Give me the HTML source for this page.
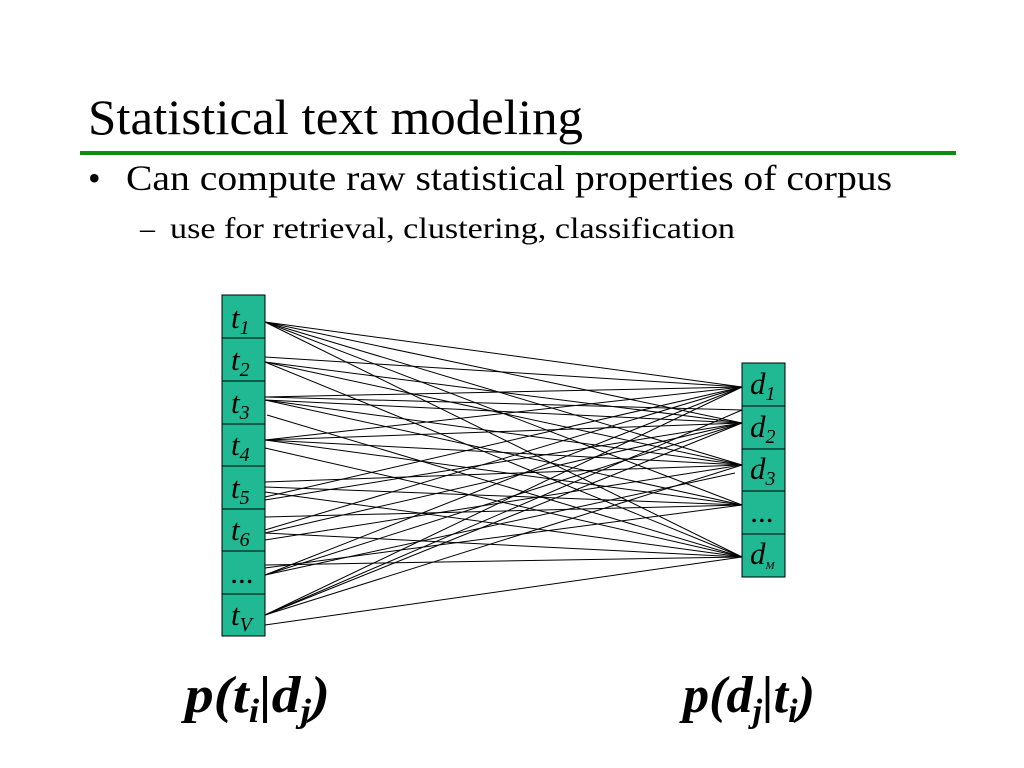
<!DOCTYPE html>
<html><head><meta charset="utf-8"><style>
html,body{margin:0;padding:0;background:#fff;}
svg{display:block;}
text{font-family:"Liberation Serif",serif;}
</style></head><body>
<svg width="1024" height="768" viewBox="0 0 1024 768" xmlns="http://www.w3.org/2000/svg">
<text x="88" y="134" font-size="50" textLength="495" lengthAdjust="spacingAndGlyphs">Statistical text modeling</text>
<rect x="80" y="151" width="876" height="4" fill="#108a10"/>
<text x="88" y="190" font-size="36">•</text>
<text x="126" y="190" font-size="36" textLength="766" lengthAdjust="spacingAndGlyphs">Can compute raw statistical properties of corpus</text>
<text x="140" y="238" font-size="30">–</text>
<text x="170" y="238" font-size="30" textLength="565" lengthAdjust="spacingAndGlyphs">use for retrieval, clustering, classification</text>
<g stroke="#000" stroke-width="1" fill="#21b994">
<rect x="222" y="295" width="43" height="43"/><rect x="222" y="338" width="43" height="43"/>
<rect x="222" y="381" width="43" height="43"/><rect x="222" y="424" width="43" height="42"/>
<rect x="222" y="466" width="43" height="43"/><rect x="222" y="509" width="43" height="42"/>
<rect x="222" y="551" width="43" height="43"/><rect x="222" y="594" width="43" height="42"/>
<rect x="742" y="363" width="43" height="43"/><rect x="742" y="406" width="43" height="43"/>
<rect x="742" y="449" width="43" height="42"/><rect x="742" y="491" width="43" height="43"/>
<rect x="742" y="534" width="43" height="43"/>
</g>
<g stroke="#000" stroke-width="1">
<line x1="265" y1="322" x2="742" y2="387"/><line x1="265" y1="322" x2="742" y2="423"/><line x1="265" y1="322" x2="742" y2="465"/><line x1="265" y1="322" x2="742" y2="505"/><line x1="265" y1="322" x2="742" y2="557"/>
<line x1="265" y1="357" x2="742" y2="387"/><line x1="265" y1="362" x2="742" y2="423"/><line x1="265" y1="362" x2="742" y2="465"/><line x1="265" y1="362" x2="742" y2="557"/>
<line x1="265" y1="397" x2="742" y2="387"/><line x1="265" y1="397" x2="742" y2="410"/><line x1="265" y1="400" x2="742" y2="423"/><line x1="265" y1="400" x2="742" y2="465"/><line x1="265" y1="400" x2="742" y2="505"/>
<line x1="267" y1="415" x2="742" y2="557"/>
<line x1="265" y1="440" x2="742" y2="387"/><line x1="265" y1="440" x2="742" y2="423"/><line x1="265" y1="440" x2="742" y2="465"/><line x1="265" y1="440" x2="742" y2="505"/><line x1="265" y1="448" x2="742" y2="557"/>
<line x1="265" y1="482" x2="742" y2="465"/><line x1="265" y1="487" x2="742" y2="505"/><line x1="265" y1="497" x2="742" y2="387"/><line x1="265" y1="500" x2="742" y2="423"/><line x1="265" y1="492" x2="742" y2="557"/>
<line x1="265" y1="517" x2="742" y2="505"/><line x1="265" y1="530" x2="742" y2="387"/><line x1="265" y1="533" x2="742" y2="423"/><line x1="265" y1="540" x2="742" y2="465"/><line x1="265" y1="533" x2="742" y2="557"/>
<line x1="265" y1="568" x2="742" y2="505"/><line x1="265" y1="575" x2="742" y2="387"/><line x1="265" y1="575" x2="742" y2="423"/><line x1="265" y1="575" x2="735" y2="473"/><line x1="265" y1="565" x2="742" y2="557"/>
<line x1="265" y1="615" x2="742" y2="387"/><line x1="265" y1="615" x2="742" y2="410"/><line x1="265" y1="615" x2="742" y2="423"/><line x1="265" y1="615" x2="742" y2="465"/><line x1="265" y1="625" x2="742" y2="557"/>
</g>
<g font-size="31" font-style="italic">
<text x="231" y="328">t<tspan font-size="20" dy="6">1</tspan></text>
<text x="231" y="370">t<tspan font-size="20" dy="6">2</tspan></text>
<text x="231" y="413">t<tspan font-size="20" dy="6">3</tspan></text>
<text x="231" y="455">t<tspan font-size="20" dy="6">4</tspan></text>
<text x="231" y="498">t<tspan font-size="20" dy="6">5</tspan></text>
<text x="231" y="540">t<tspan font-size="20" dy="6">6</tspan></text>
<text x="231" y="583">...</text>
<text x="231" y="625">t<tspan font-size="20" dy="6">V</tspan></text>
<text x="750" y="394">d<tspan font-size="20" dy="6">1</tspan></text>
<text x="750" y="437">d<tspan font-size="20" dy="6">2</tspan></text>
<text x="750" y="479">d<tspan font-size="20" dy="6">3</tspan></text>
<text x="751" y="522">...</text>
<text x="750" y="564">d<tspan font-size="11" dy="5">M</tspan></text>
</g>
<g font-size="52" font-weight="bold" font-style="italic">
<text x="185" y="712" textLength="145" lengthAdjust="spacingAndGlyphs">p(t<tspan font-size="34" dy="10">i</tspan><tspan dy="-10">|d</tspan><tspan font-size="34" dy="10">j</tspan><tspan dy="-10">)</tspan></text>
<text x="683" y="712" textLength="132" lengthAdjust="spacingAndGlyphs">p(d<tspan font-size="34" dy="10">j</tspan><tspan dy="-10">|t</tspan><tspan font-size="34" dy="10">i</tspan><tspan dy="-10">)</tspan></text>
</g>
</svg>
</body></html>
